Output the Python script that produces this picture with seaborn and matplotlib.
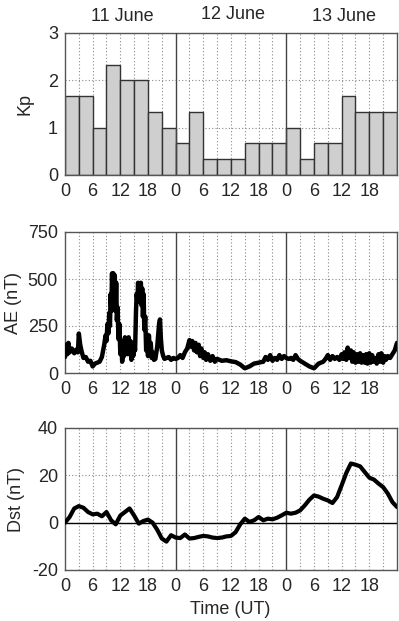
import numpy as np
import pandas as pd
import matplotlib
matplotlib.use("Agg")
import matplotlib.pyplot as plt
import seaborn as sns

# ---------------- data ----------------
day_labels = ["11 June", "12 June", "13 June"]
xtick_labels = ["0", "", "6", "", "12", "", "18", ""]

# Kp (3-hour intervals, start hour)
kp_time = list(range(0, 72, 3))
kp = [1.67, 1.67, 1.0, 2.33, 2.0, 2.0, 1.33, 1.0,
      0.67, 1.33, 0.33, 0.33, 0.33, 0.67, 0.67, 0.67,
      1.0, 0.33, 0.67, 0.67, 1.67, 1.33, 1.33, 1.33]

# AE (nT)
ae_time_day1 = [0, 0.25, 0.5, 0.75, 1, 1.5, 2, 2.5, 2.8, 3, 3.3, 3.6, 4, 4.5, 5, 5.5, 6, 6.5, 7, 7.5,
                8, 8.5, 8.8, 9, 9.2, 9.4, 9.6, 9.75, 9.9, 10.05, 10.2, 10.35, 10.5, 10.65, 10.8,
                10.95, 11.1, 11.25, 11.4, 11.6, 11.8, 12, 12.2, 12.4, 12.6, 12.8, 13.0, 13.2, 13.4,
                13.6, 13.8, 14.0, 14.2, 14.4, 14.6, 14.8, 15.0, 15.2, 15.4, 15.55, 15.7, 15.85, 16.0,
                16.15, 16.3, 16.45, 16.6, 16.75, 16.9, 17.05, 17.2, 17.4, 17.6, 17.8, 18.0, 18.2,
                18.4, 18.6, 18.8, 19.0, 19.3, 19.6, 20.0, 20.2, 20.4, 20.6, 20.8, 21.0, 21.3, 21.6,
                22, 22.5, 23, 23.5, 24]
ae_day1 = [85, 150, 100, 160, 110, 130, 105, 125, 110, 210, 150, 115, 80, 85, 60, 65, 35, 50, 55, 60,
           85, 150, 200, 170, 260, 210, 320, 250, 420, 330, 530, 360, 530, 350, 520, 330, 480, 280,
           350, 180, 260, 100, 170, 60, 140, 90, 190, 120, 180, 100, 190, 130, 170, 70, 160, 90,
           150, 120, 330, 420, 380, 480, 390, 470, 380, 480, 360, 450, 300, 420, 230, 300, 120,
           200, 90, 200, 120, 160, 80, 110, 70, 75, 140, 200, 260, 285, 180, 120, 90, 75, 80,
           85, 70, 80, 75]
ae_time_day2 = [24.5, 25, 25.5, 26, 26.5, 27, 27.3, 27.6, 28, 28.3, 28.6, 29, 29.3, 29.6, 30, 30.3,
                30.6, 31, 31.5, 32, 32.5, 33, 34, 35, 36, 37, 38, 39, 40, 41, 42, 43, 43.5, 44, 44.5,
                45, 45.5, 46, 46.5, 47, 47.5, 48]
ae_day2 = [80, 95, 80, 110, 130, 175, 140, 170, 120, 160, 110, 150, 90, 130, 80, 110, 70, 100, 65,
           90, 60, 75, 65, 68, 62, 58, 45, 25, 35, 50, 55, 60, 85, 70, 95, 65, 80, 70, 95, 75, 90,
           80]
ae_time_day3 = [48.5, 49, 49.5, 50, 50.5, 51, 52, 53, 54, 55, 56, 56.5, 57, 57.5, 58, 58.5, 59,
                59.5, 60, 60.3, 60.6, 61, 61.3, 61.6, 62, 62.3, 62.6, 63, 63.3, 63.6, 64, 64.3, 64.6,
                65, 65.3, 65.6, 66, 66.3, 66.6, 67, 67.3, 67.6, 68, 68.3, 68.6, 69, 69.3, 69.6, 70,
                70.5, 71, 71.5, 72]
ae_day3 = [75, 80, 70, 95, 75, 65, 50, 35, 25, 50, 60, 75, 95, 70, 90, 75, 85, 70, 100, 75, 110,
           70, 135, 80, 120, 60, 110, 55, 100, 60, 105, 55, 95, 55, 100, 50, 105, 55, 95, 60, 80,
           50, 100, 60, 105, 55, 90, 70, 90, 80, 100, 120, 160]

# Dst (nT), hourly
dst_time = list(range(0, 73))
dst = [0, 2.4, 6, 7, 6.3, 4.5, 3.5, 3.8, 2.7, 4.5, 1.0, -0.7, 3, 4.5, 6, 3, -0.4, 0.7, 1.3, 0,
       -3, -6.7, -8, -5.3, -6.3, -6.5, -5, -6.7, -6.5, -6, -5.6, -5.8, -6.3, -6.5, -6.3, -5.8,
       -5.6, -4, -0.7, 1.7, 0.3, 1, 2.4, 1, 1.7, 1.4, 2.1, 3.1, 4.2, 3.8, 4.2, 5.2, 7.3, 9.7,
       11.5, 11, 10.1, 9.4, 8.3, 10.8, 15.8, 21, 25, 24.5, 23.8, 21.4, 19, 18.2, 16.5, 15,
       12.3, 8.7, 6.6]

# ---------------- style ----------------
sns.set_style("white")
plt.rcParams["font.family"] = ["Liberation Sans", "DejaVu Sans"]
plt.rcParams["font.size"] = 13

W, H = 399, 621
fig = plt.figure(figsize=(W / 100, H / 100), dpi=100)

def frac(left, top, right, bottom):
    return [left / W, 1 - bottom / H, (right - left) / W, (bottom - top) / H]

ax1 = fig.add_axes(frac(65, 33, 397, 175))
ax2 = fig.add_axes(frac(65, 232, 397, 373))
ax3 = fig.add_axes(frac(65, 428, 397, 570))

spine_col = "#555555"
grid_col = "#8a8a8a"
FS = 13

def style_axis(ax, yticks):
    ax.set_xlim(0, 72)
    ticks = list(range(0, 72, 3))
    ax.set_xticks(ticks)
    ax.set_xticklabels(xtick_labels * 3, fontsize=FS)
    ax.set_yticks(yticks)
    ax.set_yticklabels([str(v) for v in yticks], fontsize=FS)
    ax.set_ylim(yticks[0], yticks[-1])
    ax.tick_params(direction="in", length=3, width=0.8, color=spine_col)
    ax.tick_params(axis="x", pad=6)
    ax.tick_params(axis="y", pad=5)
    for sp in ax.spines.values():
        sp.set_color(spine_col)
        sp.set_linewidth(1.0)
    for t in ticks:
        if t in (0, 24, 48):
            continue
        ax.axvline(t, color=grid_col, lw=0.8, ls=(0, (1, 2)), zorder=0.5)
    for v in yticks[1:-1]:
        ax.axhline(v, color=grid_col, lw=0.8, ls=(0, (1, 2)), zorder=0.5)
    for t in (24, 48):
        ax.axvline(t, color="#444444", lw=1.0, zorder=3)

# Kp bars
kp_df = pd.DataFrame({"t": np.array(kp_time) + 1.5, "kp": kp})
sns.barplot(data=kp_df, x="t", y="kp", native_scale=True, width=1.0,
            color="#cfcfcf", edgecolor="#333333", linewidth=1.0, saturation=1,
            ax=ax1, zorder=2)
style_axis(ax1, [0, 1, 2, 3])
ax1.set_xlabel("")
ax1.set_ylabel("Kp", fontsize=FS)
ax1.yaxis.set_label_coords(-0.095, 0.5)
day_x = [12.5, 36.5, 60.5]
day_y = [1.115, 1.13, 1.115]
for lbl, dx, dy in zip(day_labels, day_x, day_y):
    ax1.text(dx, dy, lbl, transform=ax1.get_xaxis_transform(), ha="center",
             va="center", fontsize=FS)

# AE
ae_df = pd.DataFrame({"t": ae_time_day1 + ae_time_day2 + ae_time_day3,
                      "ae": ae_day1 + ae_day2 + ae_day3})
sns.lineplot(data=ae_df, x="t", y="ae", color="black", lw=3.2, ax=ax2, zorder=4)
style_axis(ax2, [0, 250, 500, 750])
ax2.set_xlabel("")
ax2.set_ylabel("AE (nT)", fontsize=FS)
ax2.yaxis.set_label_coords(-0.13, 0.5)

# Dst
dst_df = pd.DataFrame({"t": dst_time, "dst": dst})
sns.lineplot(data=dst_df, x="t", y="dst", color="black", lw=3.0, ax=ax3, zorder=4)
style_axis(ax3, [-20, 0, 20, 40])
ax3.axhline(0, color="black", lw=1.0, zorder=3)
ax3.set_xlabel("Time (UT)", fontsize=FS)
ax3.xaxis.set_label_coords(0.497, -0.215)
ax3.set_ylabel("Dst (nT)", fontsize=FS)
ax3.yaxis.set_label_coords(-0.12, 0.5)

fig.savefig("out.png", dpi=100)
